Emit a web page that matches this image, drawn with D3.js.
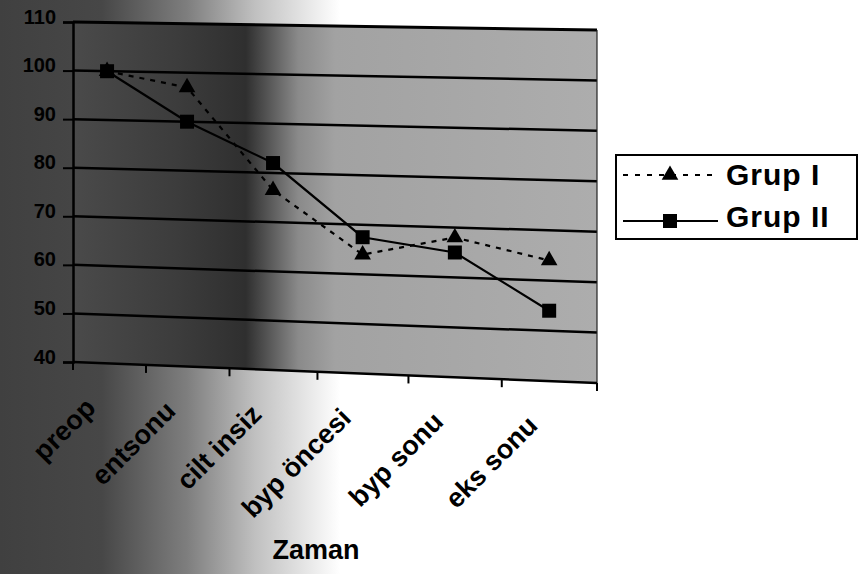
<!DOCTYPE html>
<html>
<head>
<meta charset="utf-8">
<script src="https://cdn.jsdelivr.net/npm/d3@7"></script>
<style>
  html, body { margin: 0; padding: 0; background: #fff; }
  svg { display: block; }
  text { font-family: "Liberation Sans", Arial, sans-serif; font-weight: bold; fill: #000; }
</style>
</head>
<body>
<svg id="chart" width="864" height="574"></svg>
<script>
// Measurement times and group means
const categories = ["preop", "entsonu", "cilt insiz", "byp öncesi", "byp sonu", "eks sonu"];
const grupI  = [100, 97, 76.5, 64, 68, 64];
const grupII = [100, 90, 82, 67.5, 65, 54];
const yTicks = [40, 50, 60, 70, 80, 90, 100, 110];
const seriesNames = ["Grup I", "Grup II"];
const xTitle = "Zaman";

const svg = d3.select("#chart");
const defs = svg.append("defs");

// Plot frame (slightly tilted, drawn in perspective)
const left = 73, right = 597;
const yLeft  = d3.scaleLinear().domain([40, 110]).range([362, 22]);
const yRight = d3.scaleLinear().domain([40, 110]).range([383, 30]);
const t = d3.scaleLinear().domain([left, right]).range([0, 1]);
const proj = (x, v) => d3.interpolateNumber(yLeft(v), yRight(v))(t(x));

// Category band edges widen slightly to the right
const xEdge = d3.scalePow().exponent(1.1).domain([0, categories.length]).range([left, right]);
const xCenter = i => xEdge(i + 0.5);

// Background shading
const bg = defs.append("linearGradient").attr("id", "bgGrad")
  .attr("gradientUnits", "userSpaceOnUse").attr("x1", 0).attr("x2", 340).attr("y1", 0).attr("y2", 0);
[[0, "#404040"], [0.3, "#474747"], [0.55, "#7e7e7e"], [0.75, "#c0c0c0"], [1, "#fff"]]
  .forEach(([o, c]) => bg.append("stop").attr("offset", o).attr("stop-color", c));
svg.append("rect").attr("width", 864).attr("height", 574).attr("fill", "url(#bgGrad)");

const pg = defs.append("linearGradient").attr("id", "plotGrad")
  .attr("gradientUnits", "userSpaceOnUse").attr("x1", left).attr("x2", right).attr("y1", 0).attr("y2", 0);
[[0, "#4a4a4a"], [0.2, "#3c3c3c"], [0.33, "#2f2f2f"], [0.43, "#8a8a8a"], [0.5, "#a2a2a2"], [1, "#adadad"]]
  .forEach(([o, c]) => pg.append("stop").attr("offset", o).attr("stop-color", c));

const corners = [[left, proj(left, 110)], [right, proj(right, 110)], [right, proj(right, 40)], [left, proj(left, 40)]];
svg.append("path")
  .attr("d", d3.line()(corners) + "Z")
  .attr("fill", "url(#plotGrad)");

// Gridlines
svg.append("g").selectAll("line")
  .data(yTicks.filter(v => v > 40 && v < 110))
  .join("line")
  .attr("x1", left).attr("x2", right)
  .attr("y1", v => proj(left, v)).attr("y2", v => proj(right, v))
  .attr("stroke", "#000").attr("stroke-width", 2.5);

// Top edge and right edge of the plot
svg.append("line")
  .attr("x1", left).attr("x2", right)
  .attr("y1", proj(left, 110)).attr("y2", proj(right, 110))
  .attr("stroke", "#000").attr("stroke-width", 3);
svg.append("line")
  .attr("x1", right).attr("x2", right)
  .attr("y1", proj(right, 110)).attr("y2", proj(right, 40))
  .attr("stroke", "#222").attr("stroke-width", 1.2);

// Value axis
const yAxis = svg.append("g")
  .attr("transform", `translate(${left},0)`)
  .call(d3.axisLeft(yLeft).tickValues(yTicks).tickSize(10).tickPadding(7));
yAxis.select(".domain").attr("stroke", "#000").attr("stroke-width", 2.5);
yAxis.selectAll(".tick line").attr("stroke", "#000").attr("stroke-width", 2);
yAxis.selectAll(".tick text")
  .attr("font-size", 20).attr("font-family", "Liberation Sans, Arial, sans-serif")
  .attr("font-weight", "bold").attr("fill", "#000").attr("dy", "0.05em");

// Category axis along the tilted base
svg.append("line")
  .attr("x1", left).attr("x2", right)
  .attr("y1", proj(left, 40)).attr("y2", proj(right, 40))
  .attr("stroke", "#000").attr("stroke-width", 2.5);
svg.append("g").selectAll("line")
  .data(d3.range(categories.length + 1))
  .join("line")
  .attr("x1", i => xEdge(i)).attr("x2", i => xEdge(i))
  .attr("y1", i => proj(xEdge(i), 40)).attr("y2", i => proj(xEdge(i), 40) + 8)
  .attr("stroke", "#000").attr("stroke-width", 2);

svg.append("g").selectAll("text")
  .data(categories)
  .join("text")
  .attr("transform", (d, i) => {
    const x = xCenter(i) - 10, y = proj(xCenter(i), 40) + 46;
    return `translate(${x},${y}) rotate(-45)`;
  })
  .attr("text-anchor", "end")
  .attr("font-size", 27)
  .text(d => d);

svg.append("text")
  .attr("x", 316).attr("y", 559)
  .attr("text-anchor", "middle")
  .attr("font-size", 27)
  .text(xTitle);

// Series
const line = d3.line().x((d, i) => xCenter(i)).y((d, i) => proj(xCenter(i), d));
svg.append("path").datum(grupI)
  .attr("d", line).attr("fill", "none")
  .attr("stroke", "#000").attr("stroke-width", 2.2).attr("stroke-dasharray", "5,6");
svg.append("path").datum(grupII)
  .attr("d", line).attr("fill", "none")
  .attr("stroke", "#000").attr("stroke-width", 2.2);

const tri = d3.symbol(d3.symbolTriangle, 120);
const sq = d3.symbol(d3.symbolSquare, 196);
svg.append("g").selectAll("path")
  .data(grupI)
  .join("path")
  .attr("transform", (d, i) => `translate(${xCenter(i)},${proj(xCenter(i), d)})`)
  .attr("d", tri).attr("fill", "#000");
svg.append("g").selectAll("path")
  .data(grupII)
  .join("path")
  .attr("transform", (d, i) => `translate(${xCenter(i)},${proj(xCenter(i), d)})`)
  .attr("d", sq).attr("fill", "#000");

// Legend
const lg = svg.append("g");
lg.append("rect")
  .attr("x", 616).attr("y", 155).attr("width", 241).attr("height", 84)
  .attr("fill", "#fff").attr("stroke", "#000").attr("stroke-width", 2);
const rows = [175, 221];
seriesNames.forEach((name, k) => {
  const y = rows[k];
  lg.append("line")
    .attr("x1", 623).attr("x2", 718).attr("y1", y).attr("y2", y)
    .attr("stroke", "#000").attr("stroke-width", 2.2)
    .attr("stroke-dasharray", k === 0 ? "5,7" : null);
  lg.append("path")
    .attr("transform", `translate(670,${y})`)
    .attr("d", k === 0 ? tri : sq).attr("fill", "#000");
  lg.append("text")
    .attr("x", 726).attr("y", k === 0 ? y + 10 : y + 6)
    .attr("font-size", 30)
    .attr("letter-spacing", 1)
    .text(name);
});
</script>
</body>
</html>
